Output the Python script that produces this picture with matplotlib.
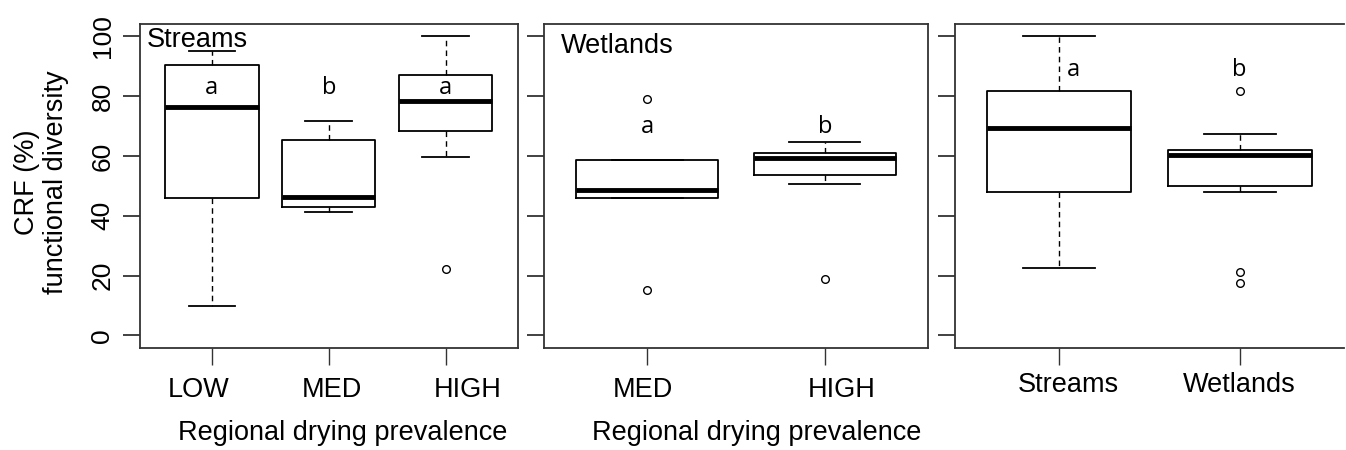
import matplotlib
matplotlib.use("Agg")
import matplotlib.pyplot as plt
from matplotlib.transforms import ScaledTranslation

plt.rcParams['font.family'] = ['Liberation Sans', 'DejaVu Sans']

# streams by regional drying prevalence
streams_cats = ['LOW', 'MED', 'HIGH']
streams_med = [76.2, 46.4, 78.5]
streams_q1 = [46.0, 43.0, 68.2]
streams_q3 = [90.5, 65.4, 87.2]
streams_lo = [9.7, 41.1, 59.7]
streams_hi = [95.0, 71.7, 100.0]
streams_out = [[], [], [22.3]]
streams_letters = ['a', 'b', 'a']

# wetlands by regional drying prevalence
wet_cats = ['MED', 'HIGH']
wet_med = [48.7, 59.4]
wet_q1 = [45.9, 53.7]
wet_q3 = [58.5, 61.1]
wet_lo = [45.9, 50.6]
wet_hi = [58.5, 64.8]
wet_out = [[79.1, 15.2], [18.8]]
wet_letters = ['a', 'b']

# streams vs wetlands
hab_cats = ['Streams', 'Wetlands']
hab_med = [69.3, 60.3]
hab_q1 = [47.9, 49.9]
hab_q3 = [81.8, 62.0]
hab_lo = [22.6, 48.1]
hab_hi = [100.0, 67.4]
hab_out = [[], [81.8, 21.3, 17.6]]
hab_letters = ['a', 'b']

yticks = [0, 20, 40, 60, 80, 100]
FS = 19.5
FRAME = '#333333'


def panel(ax, cats, med, q1, q3, lo, hi, out, letters, letter_y, letter_dx,
          label_dx, label_pad):
    n = len(cats)
    pos = list(range(1, n + 1))
    stats = []
    for i in range(n):
        stats.append(dict(med=med[i], q1=q1[i], q3=q3[i], whislo=lo[i],
                          whishi=hi[i], fliers=out[i]))
    ax.bxp(stats, positions=pos, widths=0.8, capwidths=0.4,
           boxprops=dict(color='black', lw=1.3),
           medianprops=dict(color='black', lw=3.5, solid_capstyle='butt'),
           whiskerprops=dict(color='black', lw=1.0, linestyle=(0, (4, 3))),
           capprops=dict(color='black', lw=1.3),
           flierprops=dict(marker='o', mfc='none', mec='black', ms=5.5, mew=1))
    ax.set_xlim(0.5 - 0.04 * n, n + 0.5 + 0.04 * n)
    ax.set_ylim(-4.2, 104)
    ax.set_xticks(pos)
    ax.set_xticklabels(cats, fontsize=FS)
    ax.set_yticks(yticks)
    ax.tick_params(axis='x', length=12, width=1, color=FRAME, pad=label_pad)
    ax.tick_params(axis='y', length=12, width=1.3, color=FRAME, pad=6,
                   labelsize=FS - 0.5, labelrotation=90)
    for lab in ax.get_yticklabels():
        lab.set_va('center')
    for lab, dx in zip(ax.get_xticklabels(), label_dx):
        lab.set_transform(lab.get_transform() +
                          ScaledTranslation(dx / 100, 0, fig.dpi_scale_trans))
    for sp in ax.spines.values():
        sp.set_color(FRAME)
        sp.set_linewidth(1.3)
    for i in range(n):
        ax.text(pos[i] + letter_dx[i], letter_y, letters[i], ha='center',
                va='center', fontsize=17, family='Open Sans')


fig = plt.figure(figsize=(13.46, 4.5), dpi=100)
ax1 = fig.add_axes([139.5 / 1346, 102 / 450, 378.5 / 1346, 323.7 / 450])
ax2 = fig.add_axes([544 / 1346, 102 / 450, 384 / 1346, 323.7 / 450])
ax3 = fig.add_axes([955 / 1346, 102 / 450, 389 / 1346, 323.7 / 450])

panel(ax1, streams_cats, streams_med, streams_q1, streams_q3, streams_lo,
      streams_hi, streams_out, streams_letters, 82.8, [0, 0, 0],
      [-13, 3, 22], 9)
panel(ax2, wet_cats, wet_med, wet_q1, wet_q3, wet_lo, wet_hi, wet_out,
      wet_letters, 69.7, [0, 0], [-4, 17], 9)
panel(ax3, hab_cats, hab_med, hab_q1, hab_q3, hab_lo, hab_hi, hab_out,
      hab_letters, 88.6, [0.075, 0], [9, 0], 5)

ax2.tick_params(axis='y', labelleft=False)
ax3.tick_params(axis='y', labelleft=False)
ax3.spines['right'].set_visible(False)

ax1.text(0.02, 0.931, 'Streams', transform=ax1.transAxes, fontsize=FS,
         ha='left', va='baseline')
ax2.text(0.044, 0.911, 'Wetlands', transform=ax2.transAxes, fontsize=FS,
         ha='left', va='baseline')

ax1.set_ylabel('CRF (%)\nfunctional diversity', fontsize=FS, linespacing=1.15)
ax1.yaxis.label.set_va('center')
ax1.yaxis.set_label_coords(-0.26, 0.513)

ax1.set_xlabel('Regional drying prevalence', fontsize=FS)
ax1.xaxis.label.set_va('center')
ax1.xaxis.set_label_coords(0.536, -0.263)
ax2.set_xlabel('Regional drying prevalence', fontsize=FS)
ax2.xaxis.label.set_va('center')
ax2.xaxis.set_label_coords(0.555, -0.263)

fig.savefig('out.png', dpi=100)
